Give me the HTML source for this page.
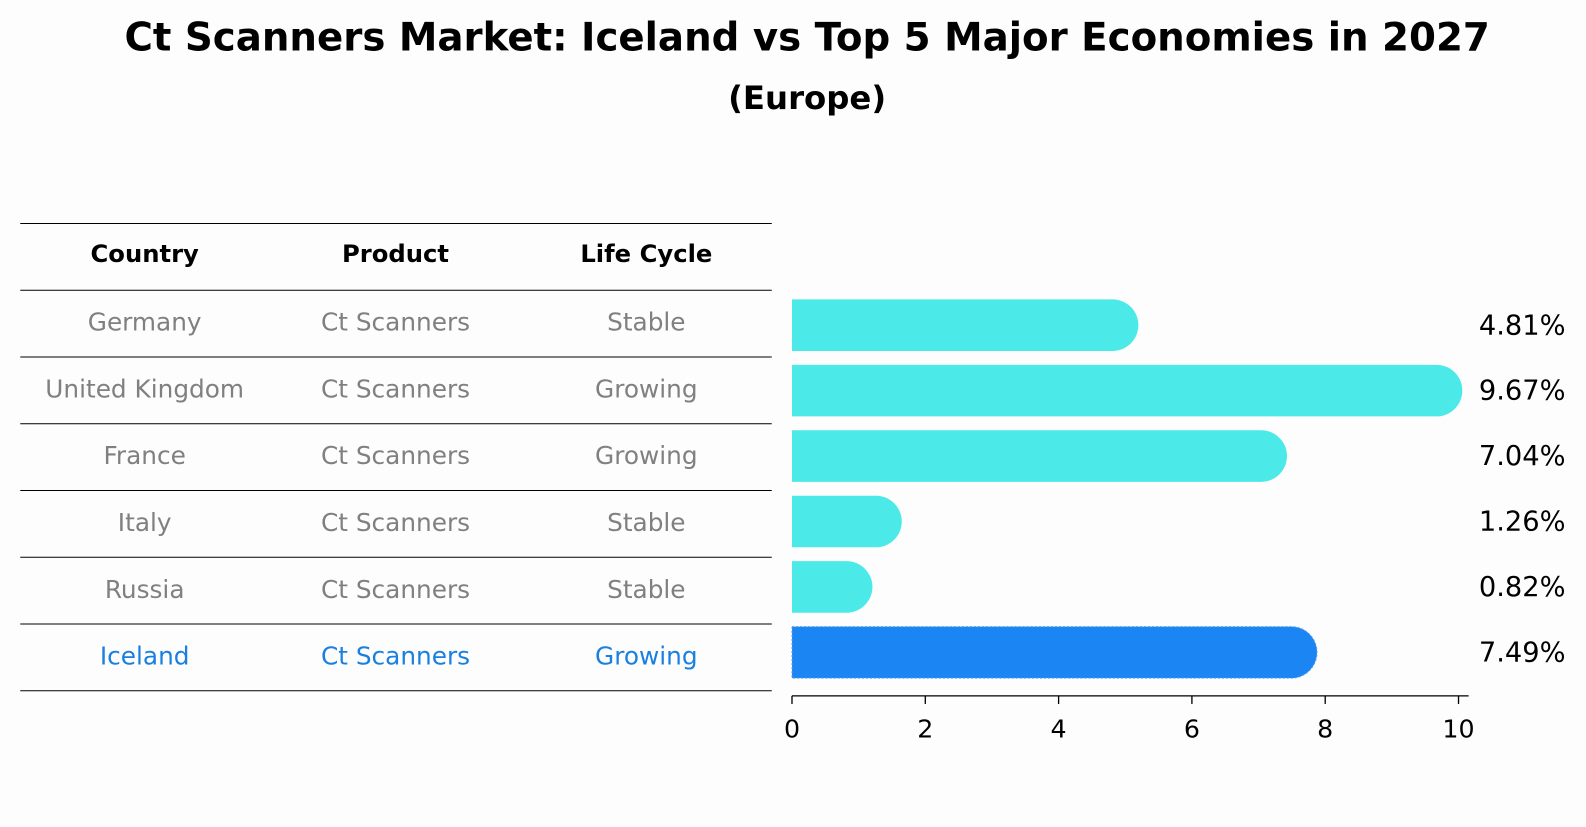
<!DOCTYPE html>
<html><head><meta charset="utf-8"><style>
body{margin:0;background:#fdfdfd;font-family:"DejaVu Sans","Liberation Sans",sans-serif;}
</style></head><body>
<svg width="1586" height="823" viewBox="0 0 1568 813.7" xmlns="http://www.w3.org/2000/svg" font-family="DejaVu Sans, Liberation Sans, sans-serif">
<rect width="1568" height="814" fill="#fdfdfd"/>
<text x="798" y="50" text-anchor="middle" font-size="38.3" font-weight="bold">Ct Scanners Market: Iceland vs Top 5 Major Economies in 2027</text>
<text x="798" y="108" text-anchor="middle" font-size="32" font-weight="bold">(Europe)</text>
<g id="table"></g>
<g id="bars"></g>
</svg>
<script>
const countries=["Germany","United Kingdom","France","Italy","Russia","Iceland"];
const products=["Ct Scanners","Ct Scanners","Ct Scanners","Ct Scanners","Ct Scanners","Ct Scanners"];
const lifeCycles=["Stable","Growing","Growing","Stable","Stable","Growing"];
const values=[4.81,9.67,7.04,1.26,0.82,7.49];
const ticks=[0,2,4,6,8,10];
const NS="http://www.w3.org/2000/svg";
function mk(tag,attrs,parent){const e=document.createElementNS(NS,tag);for(const k in attrs)e.setAttribute(k,attrs[k]);parent.appendChild(e);return e;}
const tbl=document.getElementById('table'),bars=document.getElementById('bars');
const x=v=>783+v*65.9;
const rowY=i=>321.5+i*64.7;
const colX=[143,391,639];
const lineYs=[221,287];for(let i=1;i<=6;i++)lineYs.push(287+i*66);
lineYs.forEach((y,i)=>{const l=mk('line',{x1:20,x2:763,y1:y,y2:y,stroke:'#000','stroke-width':1},tbl);

});
["Country","Product","Life Cycle"].forEach((h,j)=>{const t=mk('text',{x:colX[j],y:259,'text-anchor':'middle','font-size':24,'font-weight':'bold'},tbl);t.textContent=h;

});
countries.forEach((c,i)=>{const cy=287+i*66+33+7;const col=c==="Iceland"?"#1a80e0":"#808080";
[c,products[i],lifeCycles[i]].forEach((s,j)=>{const t=mk('text',{x:colX[j],y:cy,'text-anchor':'middle','font-size':24.5,fill:col},tbl);t.textContent=s;

});});
const h=51,r=25.5;
values.forEach((v,i)=>{const cy=rowY(i);const isI=countries[i]==="Iceland";const col=isI?"#1a85f3":"#4beae8";
const xe=x(v);
const p=mk('path',{d:`M783 ${cy-h/2} H${xe} A${r} ${r} 0 0 1 ${xe} ${cy+h/2} H783 Z`,fill:col},bars);
if(isI){p.setAttribute('stroke','#5aa0e8');p.setAttribute('stroke-dasharray','2 2');p.setAttribute('stroke-width','1');}


const t=mk('text',{x:1505,y:cy+9,'text-anchor':'middle','font-size':27},bars);t.textContent=v.toFixed(2)+'%';

});
const ax=mk('line',{x1:783,x2:1452,y1:688,y2:688,stroke:'#000','stroke-width':1.3},bars);


ticks.forEach(v=>{const tl=mk('line',{x1:x(v),x2:x(v),y1:688,y2:696,stroke:'#000','stroke-width':1.3},bars);


const t=mk('text',{x:x(v),y:729,'text-anchor':'middle','font-size':25},bars);t.textContent=v;

});
</script>
</body></html>
